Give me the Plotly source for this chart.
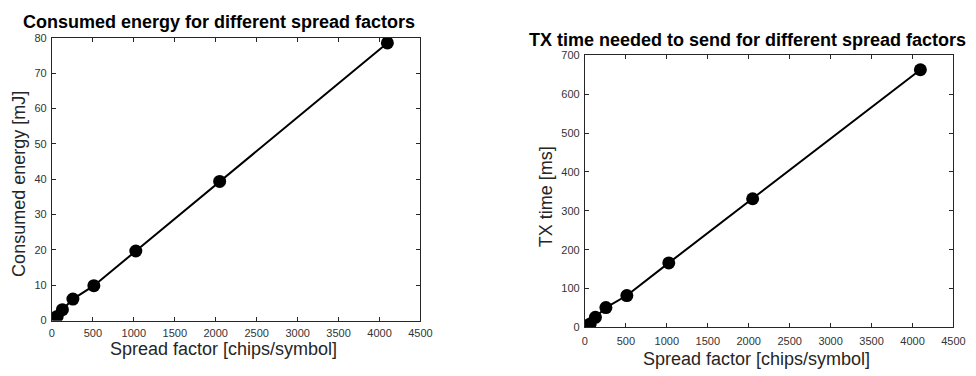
import plotly.graph_objects as go

spread_factor = [64, 128, 256, 512, 1024, 2048, 4096]
energy_mj = [1.2, 3.1, 6.1, 9.9, 19.7, 39.4, 78.6]
tx_time_ms = [9, 26, 51, 82, 166, 331, 663]

title_left = "Consumed energy for different spread factors"
title_right = "TX time needed to send for different spread factors"
xlabel = "Spread factor [chips/symbol]"
ylabel_left = "Consumed energy [mJ]"
ylabel_right = "TX time [ms]"

W, H = 976, 376
FONT = "Liberation Sans, Arial, Helvetica, sans-serif"

fig = go.Figure()
mk = dict(size=13, color="black")
ln = dict(color="black", width=2)
fig.add_trace(go.Scatter(x=spread_factor, y=energy_mj, mode="lines+markers",
                         marker=mk, line=ln, xaxis="x", yaxis="y", showlegend=False))
fig.add_trace(go.Scatter(x=spread_factor, y=tx_time_ms, mode="lines+markers",
                         marker=mk, line=ln, xaxis="x2", yaxis="y2", showlegend=False))

axcommon = dict(showgrid=False, zeroline=False, showline=True, linecolor="#262626",
                linewidth=1, mirror="ticks", ticks="inside", ticklen=4,
                tickcolor="#262626", tickfont=dict(size=11, color="#333333", family=FONT))

fig.update_layout(
    width=W, height=H, margin=dict(l=0, r=0, t=0, b=0),
    paper_bgcolor="white", plot_bgcolor="white",
    font=dict(family=FONT),
    xaxis=dict(domain=[49.7 / W, 424 / W], range=[0, 4500], dtick=500, anchor="y",
               ticklabelstandoff=2, **axcommon),
    yaxis=dict(domain=[1 - 325 / H, 1 - 33 / H], range=[0, 80], dtick=10, anchor="x",
               ticklabelstandoff=2, **axcommon),
    xaxis2=dict(domain=[591 / W, 965.3 / W], range=[0, 4500], dtick=500, anchor="y2",
                ticklabelstandoff=3, **axcommon),
    yaxis2=dict(domain=[1 - 332 / H, 1 - 51 / H], range=[0, 700], dtick=100, anchor="x2",
                ticklabelstandoff=2, **axcommon),
)

def ann(text, x, y, size, bold=False, angle=0, color="#262626"):
    fig.add_annotation(text=f"<b>{text}</b>" if bold else text, x=x / W, y=1 - y / H,
                       xref="paper", yref="paper", showarrow=False, textangle=angle,
                       xanchor="center", yanchor="middle", borderpad=0,
                       font=dict(size=size, color=color, family=FONT))

ann(title_left, 219, 17, 18, bold=True, color="black")
ann(title_right, 756, 35, 18, bold=True, color="black")
ann(xlabel, 224, 354, 18)
ann(xlabel, 765, 365, 18)
ann(ylabel_left, 16, 184, 18, angle=-90)
ann(ylabel_right, 551, 197, 18, angle=-90)

fig.write_html("out.html")
